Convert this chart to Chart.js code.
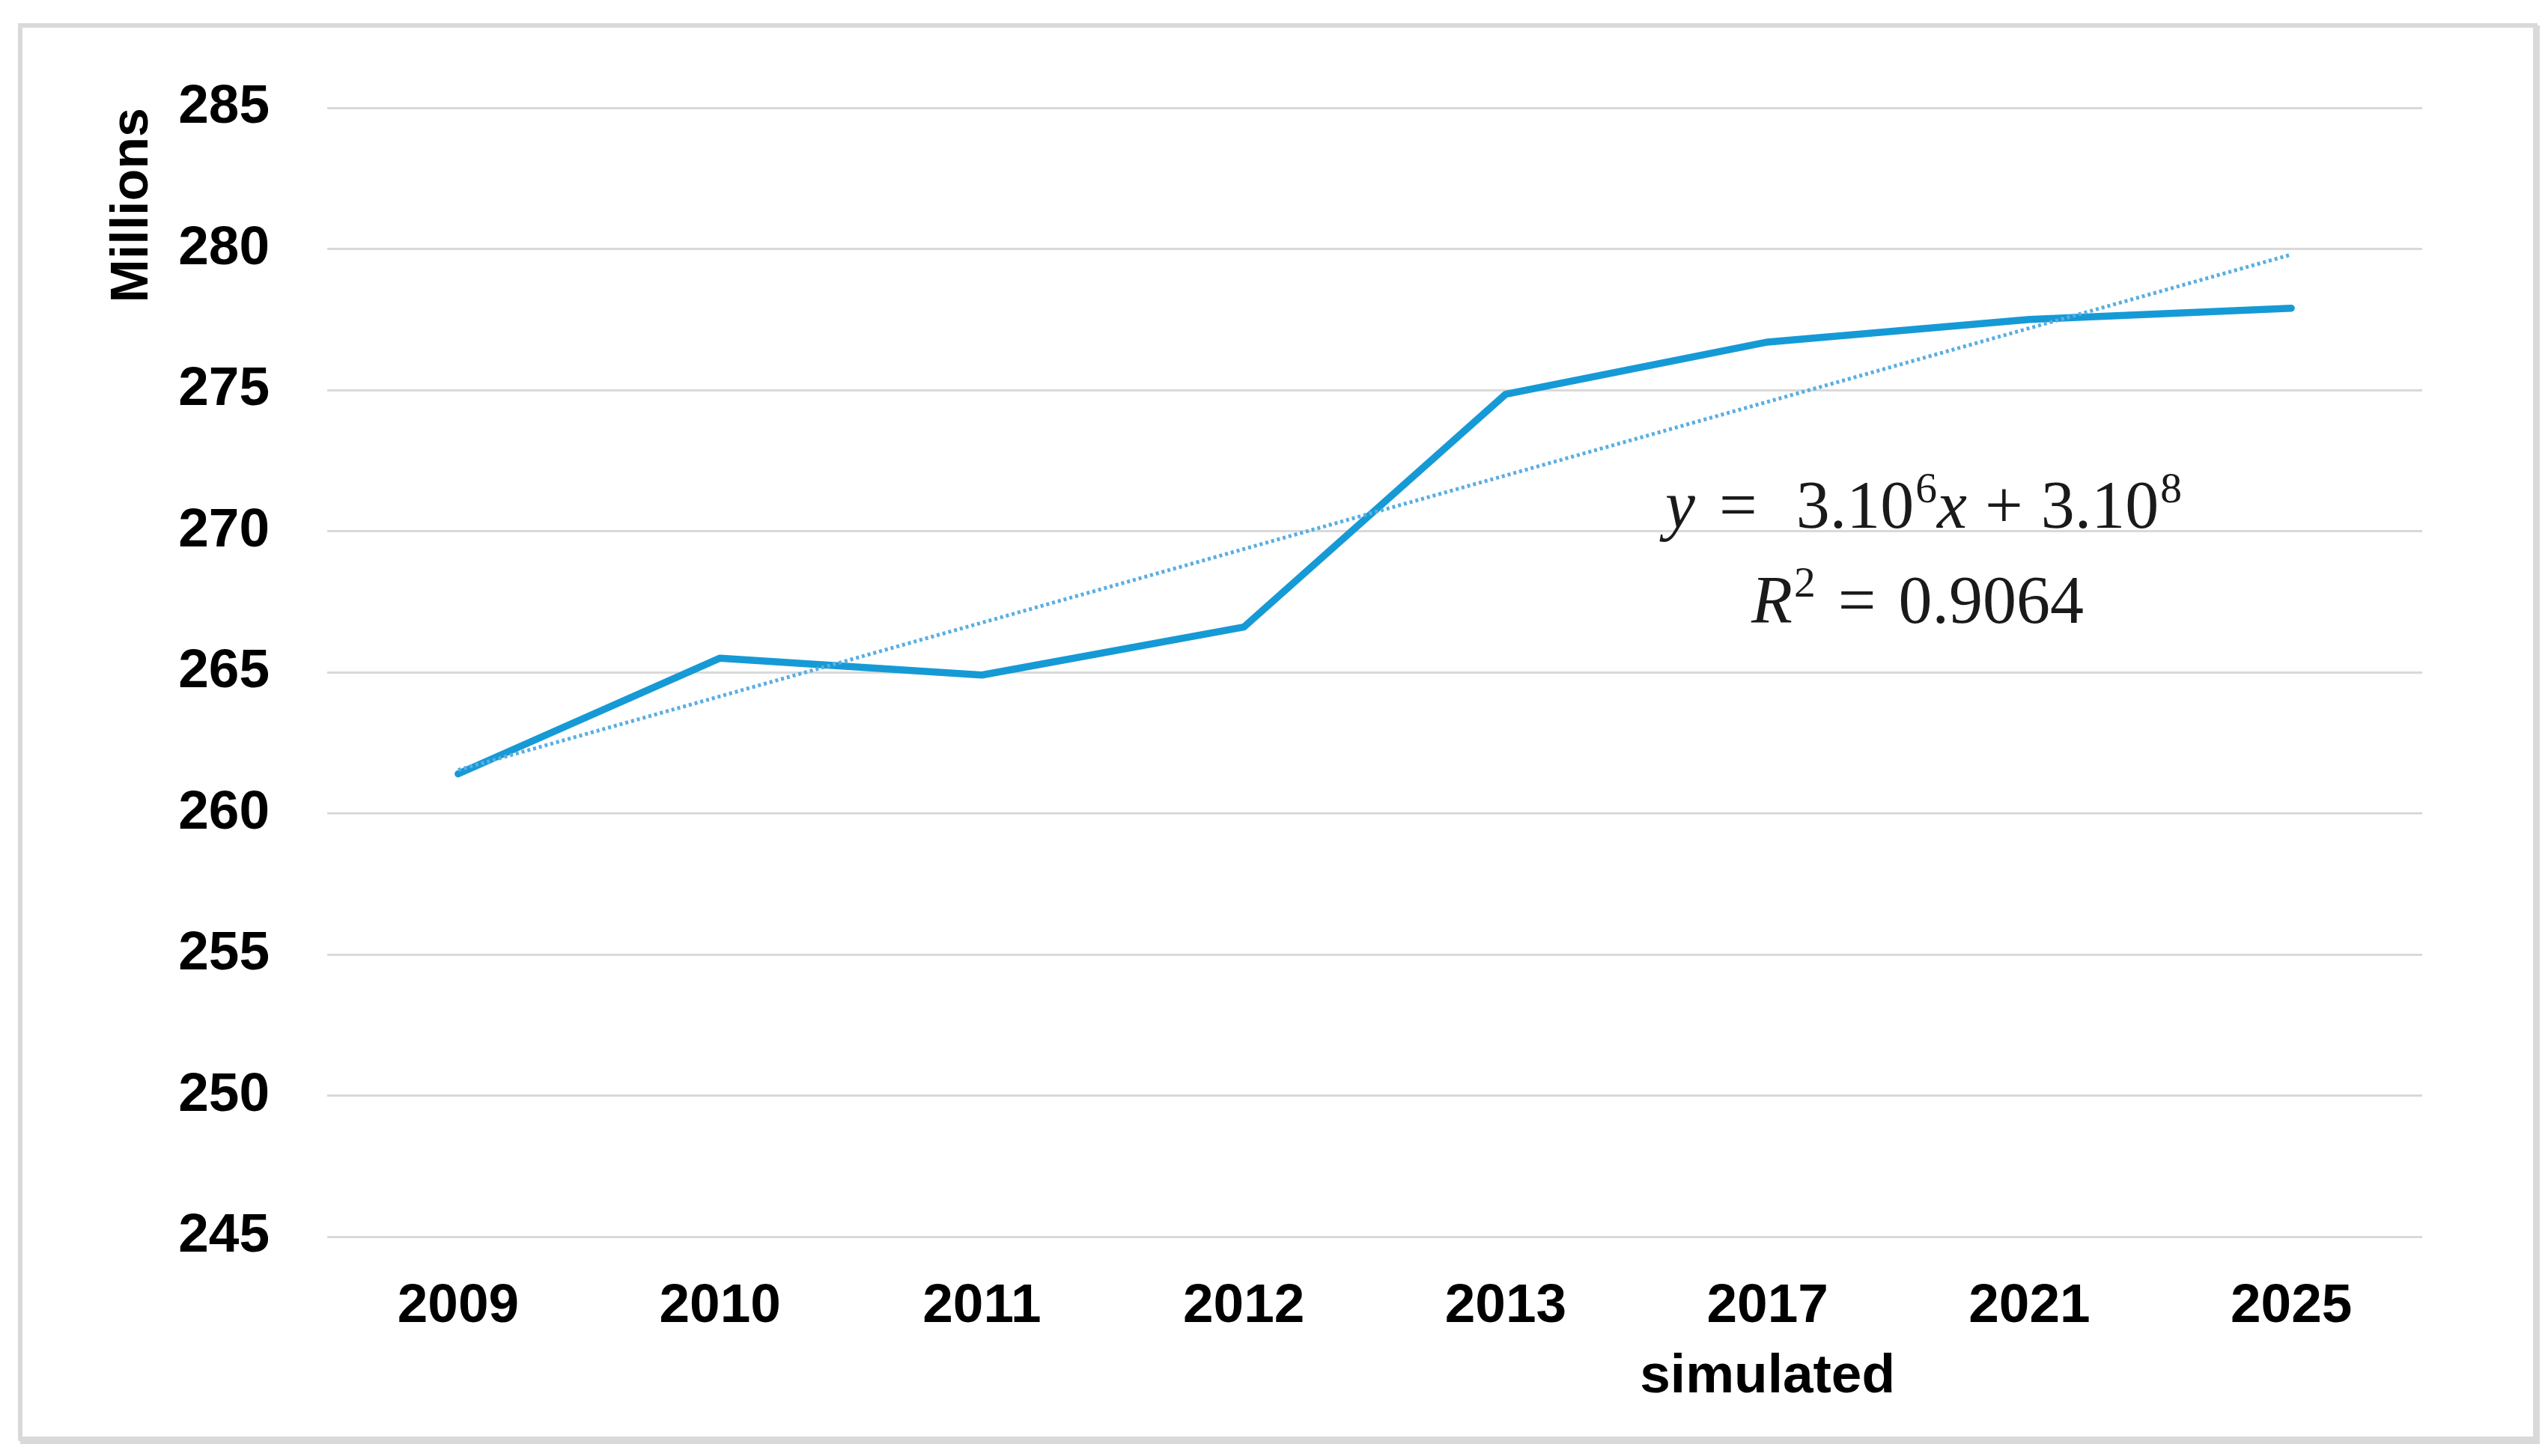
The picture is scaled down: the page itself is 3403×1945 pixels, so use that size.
<!DOCTYPE html>
<html>
<head>
<meta charset="utf-8">
<script src="https://cdn.jsdelivr.net/npm/chart.js@4/dist/chart.umd.min.js"></script>
<style>
html,body{margin:0;padding:0;background:#fff;}
canvas{display:block;}
</style>
</head>
<body>
<canvas id="c" width="3403" height="1945"></canvas>
<script>
// ---- data ----
const categories = ['2009', '2010', '2011', '2012', '2013', ['2017', 'simulated'], '2021', '2025'];
const populationMillions = [261.4, 265.5, 264.9, 266.6, 274.85, 276.7, 277.5, 277.9];
const yTicks = [245, 250, 255, 260, 265, 270, 275, 280, 285];
const r2Text = '0.9064';

// least-squares linear trendline from the series (as Excel does)
function linearTrend(vals) {
  const n = vals.length;
  const xs = vals.map((_, i) => i + 1);
  const mx = xs.reduce((a, b) => a + b, 0) / n;
  const my = vals.reduce((a, b) => a + b, 0) / n;
  let sxy = 0, sxx = 0;
  xs.forEach((x, i) => { sxy += (x - mx) * (vals[i] - my); sxx += (x - mx) * (x - mx); });
  const b = sxy / sxx, a = my - b * mx;
  return xs.map(x => a + b * x);
}
const trend = linearTrend(populationMillions);

const tickFont = {family: '"Liberation Sans", Arial, sans-serif', size: 73, weight: 'bold', lineHeight: 1.3};

const framePlugin = {
  id: 'frame',
  beforeDraw(chart) {
    const ctx = chart.ctx;
    ctx.save();
    ctx.fillStyle = '#ffffff';
    ctx.fillRect(0, 0, chart.width, chart.height);
    ctx.strokeStyle = '#d9d9d9';
    ctx.lineWidth = 6;
    ctx.strokeRect(27, 34, 3359, 1888);
    ctx.beginPath();
    ctx.moveTo(27, 1926); ctx.lineTo(3389, 1926); ctx.lineTo(3389, 34);
    ctx.stroke();
    ctx.restore();
  }
};

function drawMath(ctx, segs, cx, baseline, size) {
  const serif = '"Liberation Serif", "DejaVu Serif", serif';
  const fontFor = s => {
    const sz = s.sup ? size * 0.64 : size;
    return (s.italic ? 'italic ' : '') + sz + 'px ' + serif;
  };
  let total = 0;
  segs.forEach(s => {
    ctx.font = fontFor(s);
    s.l = s.l || 0; s.r = s.r || 0;
    s.w = ctx.measureText(s.t).width + s.l + s.r;
    total += s.w;
  });
  let x = cx - total / 2;
  segs.forEach(s => {
    ctx.font = fontFor(s);
    ctx.fillText(s.t, x + s.l, s.sup ? baseline - size * 0.38 : baseline);
    x += s.w;
  });
}

const equationPlugin = {
  id: 'equation',
  afterDatasetsDraw(chart) {
    const ctx = chart.ctx;
    const a = chart.chartArea;
    const cx = a.left + (a.right - a.left) * 0.762;
    const size = 90;
    ctx.save();
    ctx.fillStyle = '#1a1a1a';
    ctx.textAlign = 'left';
    ctx.textBaseline = 'alphabetic';
    drawMath(ctx, [
      {t: 'y', italic: true},
      {t: '=', l: 32, r: 32},
      {t: '3.10', l: 20},
      {t: '6', sup: true, l: 2},
      {t: 'x', italic: true},
      {t: '+', l: 24, r: 24},
      {t: '3.10'},
      {t: '8', sup: true, l: 2}
    ], cx, a.top + (a.bottom - a.top) * 0.372, size);
    drawMath(ctx, [
      {t: 'R', italic: true},
      {t: '2', sup: true, l: 2},
      {t: '=', l: 30, r: 30},
      {t: r2Text}
    ], cx - 8, a.top + (a.bottom - a.top) * 0.456, size);
    ctx.restore();
  }
};

new Chart(document.getElementById('c'), {
  type: 'line',
  data: {
    labels: categories,
    datasets: [
      {
        label: 'Linear trend',
        data: trend,
        borderColor: '#5aaee3',
        borderWidth: 5,
        borderDash: [4, 4],
        pointRadius: 0,
        tension: 0,
        fill: false
      },
      {
        label: 'Population',
        data: populationMillions,
        borderColor: '#169ad6',
        borderWidth: 9.5,
        borderJoinStyle: 'round',
        borderCapStyle: 'round',
        pointRadius: 0,
        tension: 0,
        fill: false
      }
    ]
  },
  options: {
    responsive: false,
    devicePixelRatio: 1,
    animation: false,
    layout: {padding: {top: 144, right: 168, bottom: 0, left: 0}},
    plugins: {legend: {display: false}, tooltip: {enabled: false}, title: {display: false}},
    scales: {
      x: {
        offset: true,
        grid: {display: false, drawTicks: false},
        border: {display: false},
        ticks: {font: tickFont, color: '#000', padding: 46, maxRotation: 0, autoSkip: false},
        afterFit(scale) { scale.height = 293; }
      },
      y: {
        min: 245,
        max: 285,
        afterBuildTicks(scale) { scale.ticks = yTicks.map(v => ({value: v})); },
        grid: {color: '#d9d9d9', lineWidth: 3, drawTicks: false},
        border: {display: false},
        ticks: {font: tickFont, color: '#000', padding: 77},
        title: {
          display: true,
          text: 'Millions',
          align: 'end',
          color: '#000',
          font: {family: '"Liberation Sans", Arial, sans-serif', size: 70, weight: 'bold'},
          padding: {top: 136, bottom: 0}
        },
        afterFit(scale) { scale.width = 437; }
      }
    }
  },
  plugins: [framePlugin, equationPlugin]
});
</script>
</body>
</html>
